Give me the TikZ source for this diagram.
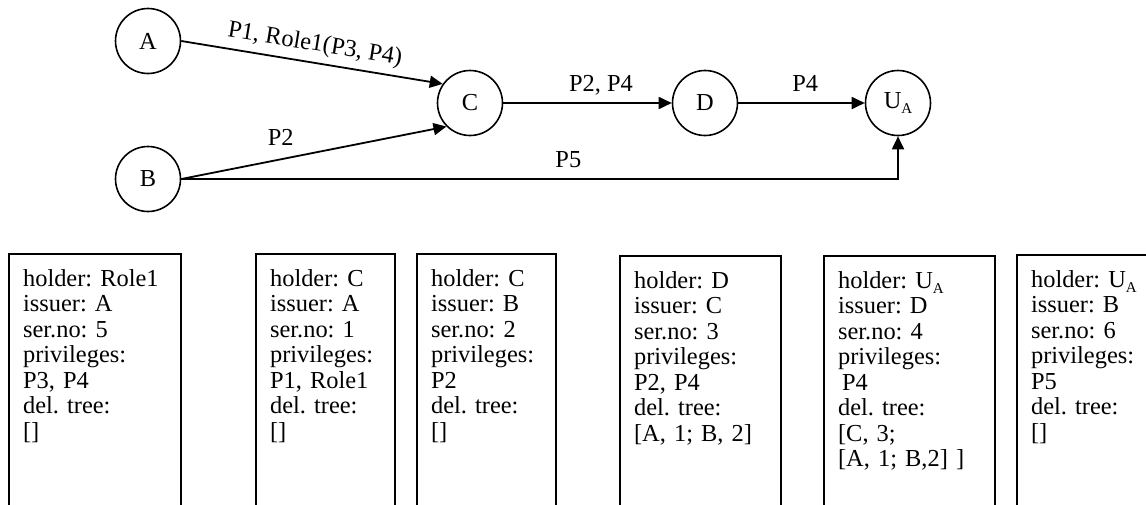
\documentclass[tikz,border=0pt]{standalone}
\usepackage{fontspec}
\setmainfont{Liberation Serif}
\usetikzlibrary{arrows.meta}
\frenchspacing
\newcommand\subA{\raisebox{-2.5pt}{\fontsize{7.5}{7.5}\selectfont A}}
\tikzset{
  party/.style={circle, draw=black, line width=0.8pt, minimum size=32.5pt, inner sep=0pt, font=\fontsize{12.2}{12.75}\selectfont},
  flow/.style={draw=black, line width=0.9pt, -{Triangle[length=6.5pt,width=6pt]}},
  lab/.style={inner sep=0pt, font=\fontsize{12.2}{12.75}\selectfont},
  cert/.style={draw=black, line width=1.1pt, anchor=north west, align=left,
    inner xsep=7pt, inner ysep=7.5pt, text height=8.5pt, text depth=110pt,
    font=\fontsize{12.2}{12.75}\selectfont},
}
\begin{document}
\begin{tikzpicture}[x=0.5pt, y=-0.5pt]
  \useasboundingbox (0,0) rectangle (1146,504);

  % principals
  \node[party] (A) at (148,41) {A};
  \node[party] (B) at (148,179) {B};
  \node[party] (C) at (470,103) {C};
  \node[party] (D) at (705,103) {D};
  \node[party] (U) at (898,103) {U\subA};

  % delegations
  \draw[flow] (A.east) -- node[lab, sloped, above=3pt] {P1, Role1(P3, P4)} (C.145);
  \draw[flow] (B.east) -- node[lab, pos=0.375, above=6.5pt] {P2} (C.225);
  \draw[flow] (C) -- node[lab, pos=0.58, above=3.5pt] {P2, P4} (D);
  \draw[flow] (D) -- node[lab, pos=0.53, above=5.5pt] {P4} (U);
  \draw[flow] (B.east) -| node[lab, pos=0.27, above=5pt] {P5} (U.south);

  % certificates
  \node[cert, text width=72pt] (cert5) at (8,253)
    {holder: Role1\\issuer: A\\ser.no: 5\\privileges:\\P3, P4\\del. tree:\\{}[]};
  \node[cert, text width=55.5pt] (cert1) at (255,253)
    {holder: C\\issuer: A\\ser.no: 1\\privileges:\\P1, Role1\\del. tree:\\{}[]};
  \node[cert, text width=55.5pt] (cert2) at (416,253)
    {holder: C\\issuer: B\\ser.no: 2\\privileges:\\P2\\del. tree:\\{}[]};
  \node[cert, text width=66.5pt] (cert3) at (619,255)
    {holder: D\\issuer: C\\ser.no: 3\\privileges:\\P2, P4\\del. tree:\\{}[A, 1; B, 2]};
  \node[cert, text width=71.5pt] (cert4) at (823,255)
    {holder: U\subA\\issuer: D\\ser.no: 4\\privileges:\\\hspace*{2pt}P4\\del. tree:\\{}[C, 3;\\{}[A, 1; B,2] ]};
  \node[cert, text width=66pt] (cert6) at (1016,254)
    {holder: U\subA\\issuer: B\\ser.no: 6\\privileges:\\P5\\del. tree:\\{}[]};
\end{tikzpicture}
\end{document}
